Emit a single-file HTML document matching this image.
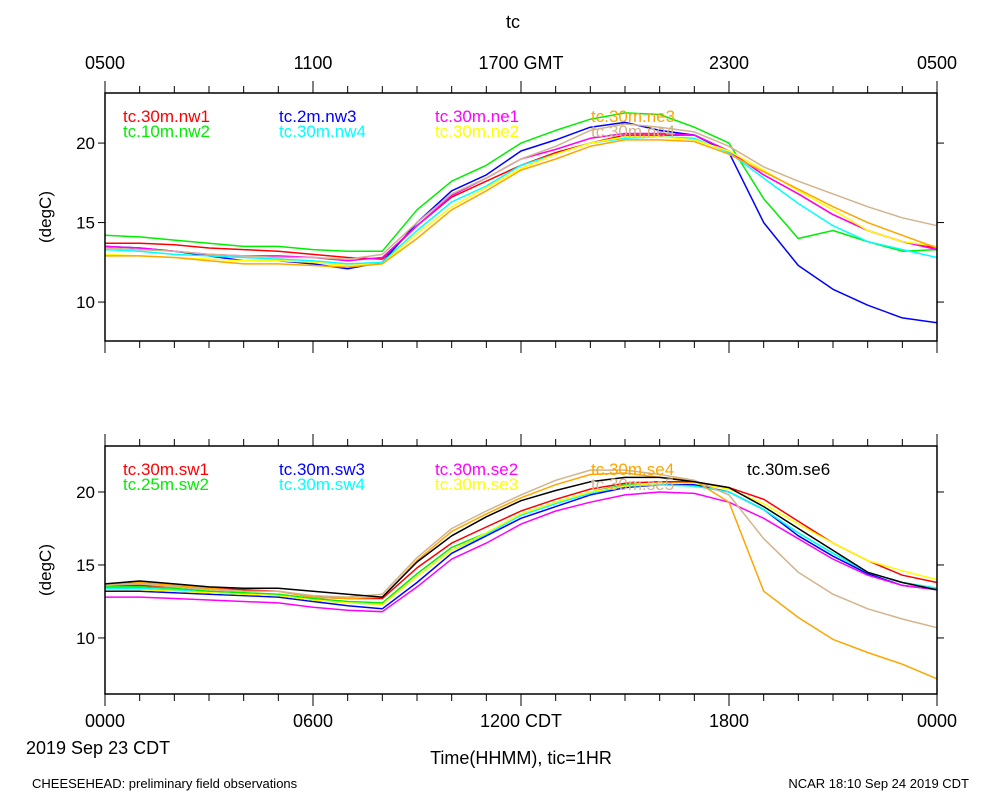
<!DOCTYPE html>
<html><head><meta charset="utf-8"><style>
body{margin:0;background:#fff}
svg{display:block;font-family:"Liberation Sans",sans-serif}
</style></head><body>
<svg id="c" width="1000" height="800" viewBox="0 0 1000 800"></svg>
<script>
const hours=[0,1,2,3,4,5,6,7,8,9,10,11,12,13,14,15,16,17,18,19,20,21,22,23,24];
const topNames=["tc.30m.nw1","tc.10m.nw2","tc.2m.nw3","tc.30m.nw4","tc.30m.ne1","tc.30m.ne2","tc.30m.ne3","tc.30m.ne4"];
const topColors=["#ff0000","#00ee00","#0000ff","#00ffff","#ff00ff","#ffff00","#ffa500","#d2b48c"];
const nw1=[13.7,13.7,13.6,13.4,13.3,13.2,13.0,12.8,12.7,14.8,16.6,17.6,18.6,19.4,20.0,20.5,20.5,20.5,19.5,18.0,16.8,15.5,14.5,13.8,13.4];
const nw2=[14.2,14.1,13.9,13.7,13.5,13.5,13.3,13.2,13.2,15.8,17.6,18.6,20.0,20.8,21.5,21.9,21.8,21.0,20.0,16.5,14.0,14.5,13.8,13.2,13.3];
const nw3=[13.5,13.4,13.2,12.9,12.6,12.6,12.4,12.1,12.5,15.0,17.0,18.0,19.5,20.2,21.0,21.3,20.8,20.5,19.4,15.0,12.3,10.8,9.8,9.0,8.7];
const nw4=[13.3,13.2,13.0,12.9,12.8,12.7,12.6,12.4,12.5,14.5,16.3,17.3,18.6,19.3,20.0,20.3,20.4,20.3,19.4,17.8,16.2,14.8,13.8,13.3,12.8];
const ne1=[13.5,13.4,13.2,13.0,12.9,12.9,12.8,12.6,12.8,14.8,16.7,17.8,19.0,19.6,20.3,20.6,20.6,20.5,19.5,18.0,16.8,15.5,14.5,13.8,13.3];
const ne2=[13.0,12.9,12.8,12.7,12.6,12.6,12.5,12.3,12.4,14.3,16.0,17.2,18.4,19.3,20.0,20.4,20.4,20.2,19.5,18.3,17.0,15.8,14.5,13.8,13.5];
const ne3=[12.9,12.9,12.8,12.6,12.4,12.4,12.3,12.2,12.4,14.0,15.8,17.0,18.3,19.0,19.8,20.2,20.2,20.1,19.3,18.2,17.1,16.0,15.0,14.2,13.4];
const ne4=[13.4,13.3,13.2,13.0,12.9,12.8,12.8,12.7,13.0,15.0,16.8,17.8,19.0,19.8,20.8,21.2,21.0,20.7,19.8,18.5,17.6,16.8,16.0,15.3,14.8];
const botNames=["tc.30m.sw1","tc.25m.sw2","tc.30m.sw3","tc.30m.sw4","tc.30m.se2","tc.30m.se3","tc.30m.se4","tc.30m.se5","tc.30m.se6"];
const botColors=["#ff0000","#00ee00","#0000ff","#00ffff","#ff00ff","#ffff00","#ffa500","#d2b48c","#000000"];
const sw1=[13.6,13.6,13.5,13.4,13.3,13.2,12.8,12.7,12.7,14.8,16.5,17.6,18.7,19.5,20.2,20.6,20.7,20.7,20.3,19.5,18.0,16.5,15.3,14.3,13.8];
const sw2=[13.5,13.5,13.4,13.2,13.1,13.0,12.7,12.5,12.4,14.4,16.2,17.2,18.5,19.3,20.0,20.5,20.5,20.5,20.0,18.8,17.2,15.8,14.5,13.8,13.4];
const sw3=[13.2,13.2,13.1,13.0,12.9,12.8,12.5,12.2,12.0,13.8,15.8,17.0,18.2,19.0,19.8,20.3,20.5,20.5,20.0,18.8,17.0,15.6,14.4,13.6,13.3];
const sw4=[13.4,13.4,13.3,13.1,13.0,12.9,12.6,12.4,12.3,14.2,16.0,17.1,18.4,19.2,19.9,20.4,20.5,20.4,20.0,18.8,17.2,15.8,14.5,13.8,13.4];
const se2=[12.8,12.8,12.7,12.6,12.5,12.4,12.1,11.9,11.8,13.5,15.4,16.5,17.8,18.7,19.3,19.8,20.0,19.9,19.3,18.2,16.8,15.4,14.3,13.6,13.3];
const se3=[13.3,13.3,13.2,13.1,13.0,12.9,12.6,12.4,12.3,14.2,16.0,17.2,18.5,19.3,20.0,20.4,20.6,20.6,20.2,19.2,17.8,16.5,15.3,14.6,14.0];
const se4=[13.6,13.8,13.6,13.4,13.2,13.2,12.8,12.7,12.8,15.3,17.3,18.5,19.6,20.5,21.2,21.3,21.0,20.8,19.3,13.2,11.4,9.9,9.0,8.2,7.2];
const se5=[13.6,13.7,13.5,13.3,13.2,13.2,12.9,12.8,13.0,15.5,17.5,18.7,19.8,20.8,21.5,21.5,21.2,20.8,19.8,16.8,14.5,13.0,12.0,11.3,10.7];
const se6=[13.7,13.9,13.7,13.5,13.4,13.4,13.2,13.0,12.8,15.2,17.0,18.3,19.4,20.1,20.7,21.0,21.0,20.7,20.3,19.0,17.5,16.0,14.5,13.8,13.3];
const topSeries=[nw1,nw2,nw3,nw4,ne1,ne2,ne3,ne4];
const botSeries=[sw1,sw2,sw3,sw4,se2,se3,se4,se5,se6];
const yTicks=[10,15,20];
const topTickLabels=["0500","1100","1700 GMT","2300","0500"];
const botTickLabels=["0000","0600","1200 CDT","1800","0000"];

const NS="http://www.w3.org/2000/svg";
const svg=document.getElementById('c');
function mk(t,a,p){const e=document.createElementNS(NS,t);for(const k in a)e.setAttribute(k,a[k]);(p||svg).appendChild(e);return e;}
const X0=105,X1=937;
const xs=h=>X0+(X1-X0)*h/24;
function panel(top,bot,ymin,ymax,series,colors,names,tickLabels,pname){
  const g=mk('g',{});
  
  
  const ys=v=>bot-(bot-top)*(v-ymin)/(ymax-ymin);
  series.forEach((s,i)=>{
    const d=s.map((v,j)=>(j?'L':'M')+xs(hours[j]).toFixed(1)+','+ys(v).toFixed(1)).join('');
    const p=mk('path',{d:d,fill:'none',stroke:colors[i],'stroke-width':1.5,'stroke-linejoin':'round'},g);
    
    
  });
  const f=mk('rect',{x:X0,y:top,width:X1-X0,height:bot-top,fill:'none',stroke:'#000','stroke-width':1.5},g);
  
  
  for(let h=0;h<=24;h++){
    const L=h%6===0?12:7;
    mk('line',{x1:xs(h),x2:xs(h),y1:bot,y2:bot+L,stroke:'#000','stroke-width':1},g);
    mk('line',{x1:xs(h),x2:xs(h),y1:top,y2:top-L,stroke:'#000','stroke-width':1},g);
  }
  yTicks.forEach(v=>{
    mk('line',{x1:X0-7,x2:X0,y1:ys(v),y2:ys(v),stroke:'#000'},g);
    mk('line',{x1:X1,x2:X1+7,y1:ys(v),y2:ys(v),stroke:'#000'},g);
    const t=mk('text',{x:X0-10,y:ys(v)+6,'text-anchor':'end','font-size':17},g);t.textContent=v;
    
    
  });
  const yl=mk('text',{transform:`translate(51,${(top+bot)/2}) rotate(-90)`,'text-anchor':'middle','font-size':17},g);
  yl.textContent='(degC)';
  
  
  names.forEach((n,i)=>{
    const col=Math.min(Math.floor(i/2),4);
    const row=i>=8?0:i%2;
    const t=mk('text',{x:123+156*col,y:top+29+row*15,'font-size':17,fill:colors[i]},g);
    t.textContent=n;
    
    
  });
  return ys;
}
panel(93,341,7.55,23.15,topSeries,topColors,topNames,topTickLabels,'top-panel');
panel(446,694,6.16,23.15,botSeries,botColors,botNames,botTickLabels,'bottom-panel');
function txt(s,x,y,sz,anc,name){const t=mk('text',{x:x,y:y,'font-size':sz,'text-anchor':anc});t.textContent=s;
  
  return t;}
topTickLabels.forEach((s,i)=>txt(s,xs(i*6),69,18,'middle','top-x-tick-label'));
botTickLabels.forEach((s,i)=>txt(s,xs(i*6),727,18,'middle','bottom-x-tick-label'));
txt('tc',513,28,18,'middle','chart-title');
txt('2019 Sep 23 CDT',26,754,18,'start','date-label');
txt('Time(HHMM), tic=1HR',521,764,18,'middle','x-axis-title');
txt('CHEESEHEAD: preliminary field observations',32,788,13,'start','footer-left');
txt('NCAR 18:10 Sep 24 2019 CDT',969,788,13,'end','footer-right');
</script>
</body></html>
